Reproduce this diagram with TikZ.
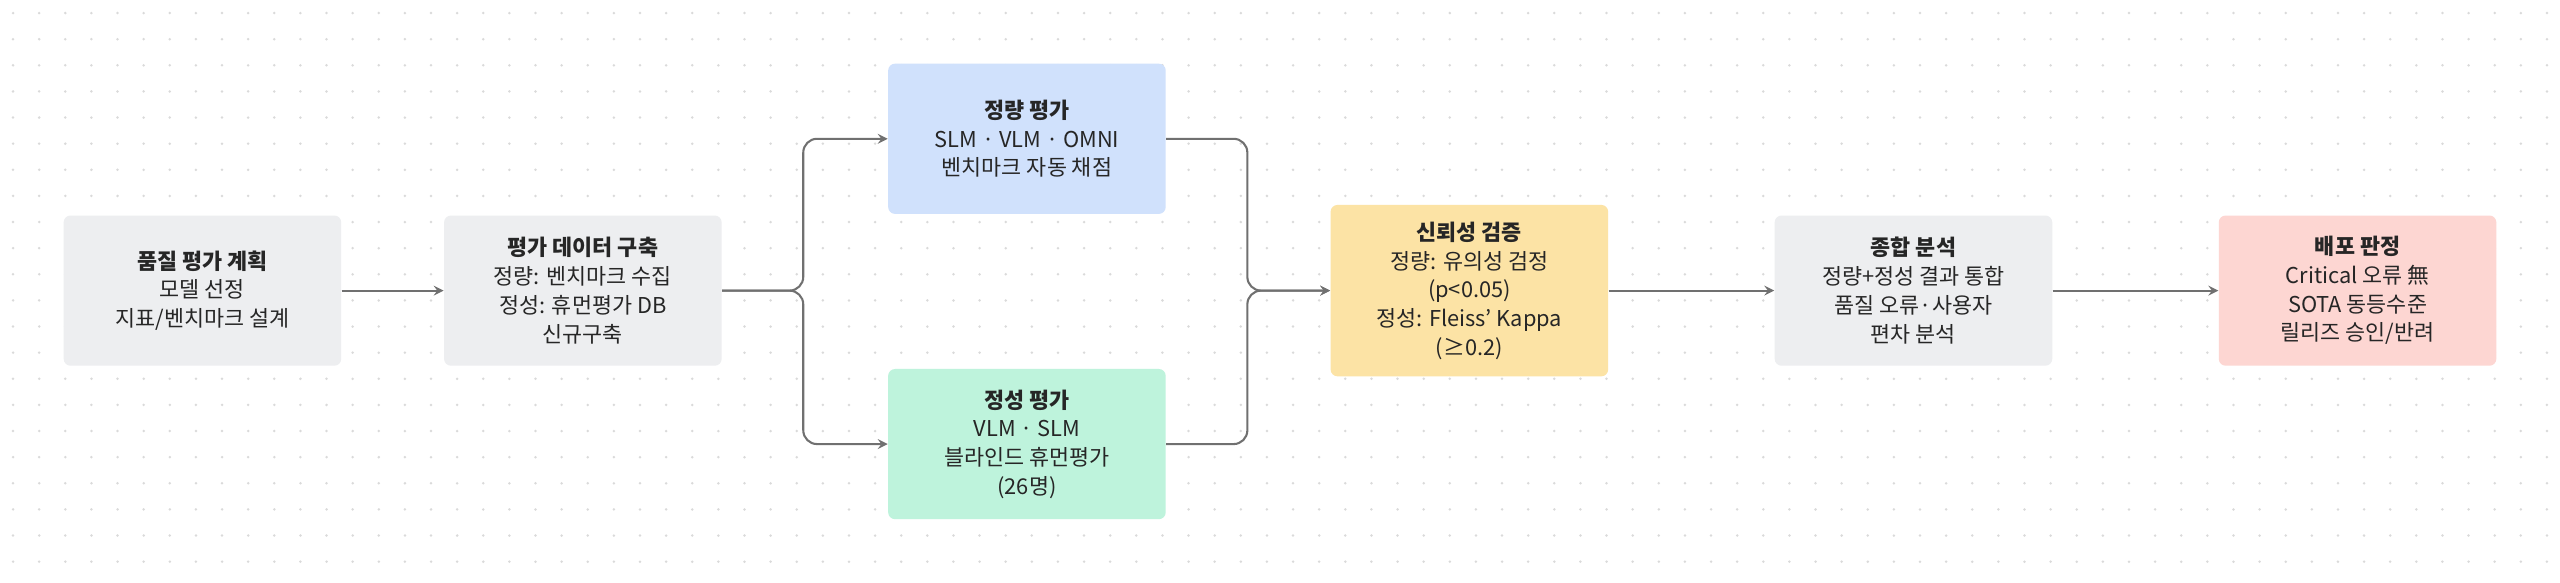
\documentclass[tikz,border=0pt]{standalone}
\usepackage{fontspec}
\setmainfont{Noto Sans CJK KR}
\usetikzlibrary{positioning}
\definecolor{boxgray}{HTML}{EDEEF0}
\definecolor{boxblue}{HTML}{D0E1FC}
\definecolor{boxgreen}{HTML}{BEF3DC}
\definecolor{boxyellow}{HTML}{FCE3A5}
\definecolor{boxred}{HTML}{FDD6D2}
\definecolor{linegray}{HTML}{707070}
\definecolor{dotgray}{HTML}{DADADA}
\tikzset{
	stage/.style = {rounded corners = 3pt, minimum width = 170*0.025cm, minimum height = 92*0.025cm,
		align = center, font = \fontsize{9.5}{12.5}\selectfont, text = black!85},
	flow/.style = {->, draw = linegray, line width = 0.9pt, rounded corners = 6pt}
}
\begin{document}
\begin{tikzpicture}[x = 0.025cm, y = -0.025cm, > = stealth]

	% Background and dot grid
	
	\fill [white] (0, 0) rectangle (1568, 357);
	\useasboundingbox (0, 0) rectangle (1568, 357);
	\foreach \i in {0, ..., 97} {
		\foreach \j in {0, ..., 22} {
			\fill [dotgray] (8 + 16*\i, 8 + 16*\j) circle (0.6pt);
		}
	}
	
	% Stages
	
	\node [stage, fill = boxgray] (plan) at (124, 178) {\textbf{품질 평가 계획}\\모델 선정\\지표/벤치마크 설계};
	\node [stage, fill = boxgray] (data) at (357, 178) {\textbf{평가 데이터 구축}\\정량: 벤치마크 수집\\정성: 휴먼평가 DB\\신규구축};
	\node [stage, fill = boxblue] (quant) at (629, 85) {\textbf{정량 평가}\\SLM · VLM · OMNI\\벤치마크 자동 채점};
	\node [stage, fill = boxgreen] (qual) at (629, 272) {\textbf{정성 평가}\\VLM · SLM\\블라인드 휴먼평가\\(26명)};
	\node [stage, fill = boxyellow, minimum height = 105*0.025cm] (check) at (900, 178) {\textbf{신뢰성 검증}\\정량: 유의성 검정\\(p<0.05)\\정성: Fleiss' Kappa\\(≥0.2)};
	\node [stage, fill = boxgray] (total) at (1172, 178) {\textbf{종합 분석}\\정량+정성 결과 통합\\품질 오류·사용자\\편차 분석};
	\node [stage, fill = boxred] (deploy) at (1444, 178) {\textbf{배포 판정}\\Critical 오류 無\\SOTA 동등수준\\릴리즈 승인/반려};
	
	% Connectors
	
	\draw [flow] (plan) -- (data);
	\draw [flow] (data.east) -- (492, 178) |- (quant.west);
	\draw [flow] (data.east) -- (492, 178) |- (qual.west);
	\draw [flow] (quant.east) -| (764, 178) -- (check.west);
	\draw [flow] (qual.east) -| (764, 178) -- (check.west);
	\draw [flow] (check) -- (total);
	\draw [flow] (total) -- (deploy);
	
\end{tikzpicture}
\end{document}
